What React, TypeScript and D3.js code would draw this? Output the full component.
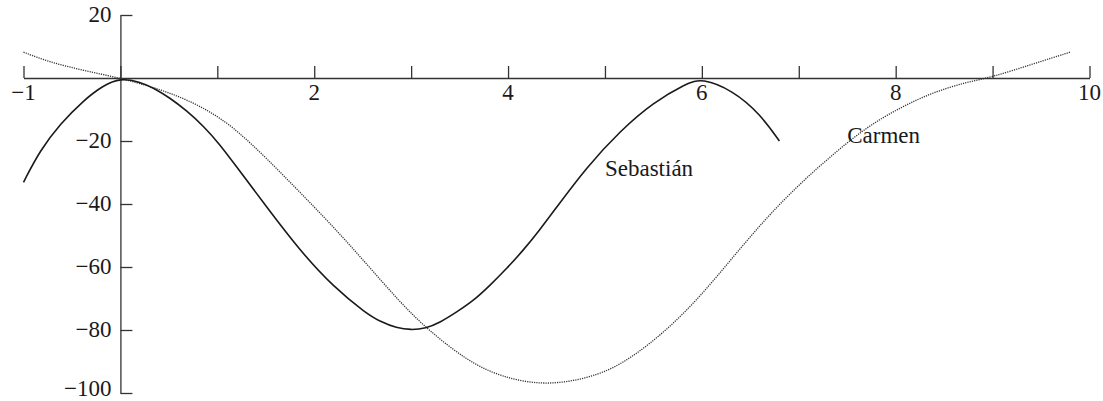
import { useEffect, useRef } from "react";
import * as d3 from "d3";

// values
const sebastianX = [-1, -0.83, -0.62, -0.38, -0.18, 0, 0.2, 0.34, 0.51, 0.68, 0.86, 1.03, 1.16, 1.51, 1.85, 2.2, 2.54, 2.68, 2.85, 3.0, 3.15, 3.3, 3.47, 3.64, 3.815, 3.986, 4.157, 4.33, 4.47, 4.81, 5.16, 5.5, 5.84, 6.0, 6.32, 6.6, 6.8];
const sebastianY = [-33.1, -23, -14.5, -7.1, -2.4, 0, -1.2, -3.1, -6.3, -10.3, -15.3, -21.3, -26.6, -41, -54.7, -66.4, -74.8, -77.3, -79.4, -80, -79.5, -77.6, -74.3, -70.8, -65.8, -60.5, -54.7, -48.1, -42.3, -28.3, -16.7, -7.7, -1.8, 0, -4, -11.4, -20];

const carmenX = [-1, -0.73, -0.38, 0, 0.34, 0.51, 0.68, 0.86, 1.03, 1.2, 1.51, 1.85, 2.2, 2.54, 2.88, 3.16, 3.57, 3.92, 4.4, 4.95, 5.29, 5.64, 5.98, 6.32, 6.67, 7.01, 7.36, 7.7, 8.05, 8.39, 8.73, 9.0, 9.42, 9.8];
const carmenY = [8.2, 5, 2.4, 0, -3.0, -4.8, -6.9, -9.6, -12.8, -16.6, -25.5, -36.2, -47.3, -59, -71, -79.6, -89.6, -94.9, -97.9, -94.5, -88.5, -80, -69.5, -56.9, -44.2, -33.6, -24, -15.6, -9.3, -4.5, -1.3, 0.3, 4.5, 8.2];

const xTicks = [-1, 0, 1, 2, 3, 4, 5, 6, 7, 8, 9, 10];
const xTickLabels = [-1, 2, 4, 6, 8, 10];
const yTicks = [20, -20, -40, -60, -80, -100];

const seriesNames = ["Sebastián", "Carmen"];
const labelX = [5.0, 7.5];
const labelY = [-31, -20.5];

const W = 1103;
const H = 401;

const App = () => {
  const svgRef = useRef<SVGSVGElement>(null);

  useEffect(() => {
    const svg = d3.select(svgRef.current);
    svg.selectAll("*").remove();

    const x = d3.scaleLinear().domain([-1, 10]).range([23.5, 1089.5]);
    const y = d3.scaleLinear().domain([20, -100]).range([15, 393]);
    const font = "'Liberation Serif', 'Times New Roman', serif";
    const ink = "#1a1a1a";
    const fs = 23;

    // x axis: ticks point up, labels below
    const xg = svg
      .append("g")
      .attr("transform", `translate(0,${y(0)})`)
      .call(
        d3.axisTop(x).tickValues(xTicks).tickSize(12).tickSizeOuter(0).tickFormat(() => "")
      );
    xg.selectAll("path, line").attr("stroke", "#333").attr("stroke-width", 1.3);

    svg
      .append("g")
      .selectAll("text")
      .data(xTickLabels)
      .join("text")
      .attr("x", (d) => x(d))
      .attr("y", y(0) + 22)
      .attr("text-anchor", "middle")
      .attr("font-family", font)
      .attr("font-size", fs)
      .attr("fill", ink)
      .text((d) => d3.format("d")(d));

    // y axis: ticks point right, labels on the left
    const yg = svg
      .append("g")
      .attr("transform", `translate(${x(0)},0)`)
      .call(
        d3.axisRight(y).tickValues(yTicks).tickSize(12).tickSizeOuter(0).tickFormat(() => "")
      );
    yg.selectAll("path, line").attr("stroke", "#333").attr("stroke-width", 1.3);

    // keep the bottom label inside the frame
    svg
      .append("g")
      .selectAll("text")
      .data(yTicks)
      .join("text")
      .attr("x", x(0) - 9)
      .attr("y", (d) => Math.min(y(d) + 7, H - 5))
      .attr("text-anchor", "end")
      .attr("font-family", font)
      .attr("font-size", fs)
      .attr("fill", ink)
      .text((d) => d3.format("d")(d));

    // basis smooths out the small reading errors in the points
    const line = d3
      .line<[number, number]>()
      .x((d) => x(d[0]))
      .y((d) => y(d[1]))
      .curve(d3.curveBasis);

    const carmen = carmenX.map((v, i) => [v, carmenY[i]] as [number, number]);
    const sebastian = sebastianX.map((v, i) => [v, sebastianY[i]] as [number, number]);

    svg
      .append("path")
      .attr("d", line(carmen))
      .attr("fill", "none")
      .attr("stroke", "#333")
      .attr("stroke-width", 1.3)
      .attr("stroke-dasharray", "1.2 1.1");

    svg
      .append("path")
      .attr("d", line(sebastian))
      .attr("fill", "none")
      .attr("stroke", ink)
      .attr("stroke-width", 1.6);

    svg
      .append("g")
      .selectAll("text")
      .data(seriesNames)
      .join("text")
      .attr("x", (_, i) => x(labelX[i]))
      .attr("y", (_, i) => y(labelY[i]))
      .attr("font-family", font)
      .attr("font-size", fs)
      .attr("fill", ink)
      .text((d) => d);
  }, []);

  return (
    <svg
      ref={svgRef}
      width={W}
      height={H}
      style={{ position: "absolute", left: 0, top: 0, background: "#fff" }}
    ></svg>
  );
};

export default App;
